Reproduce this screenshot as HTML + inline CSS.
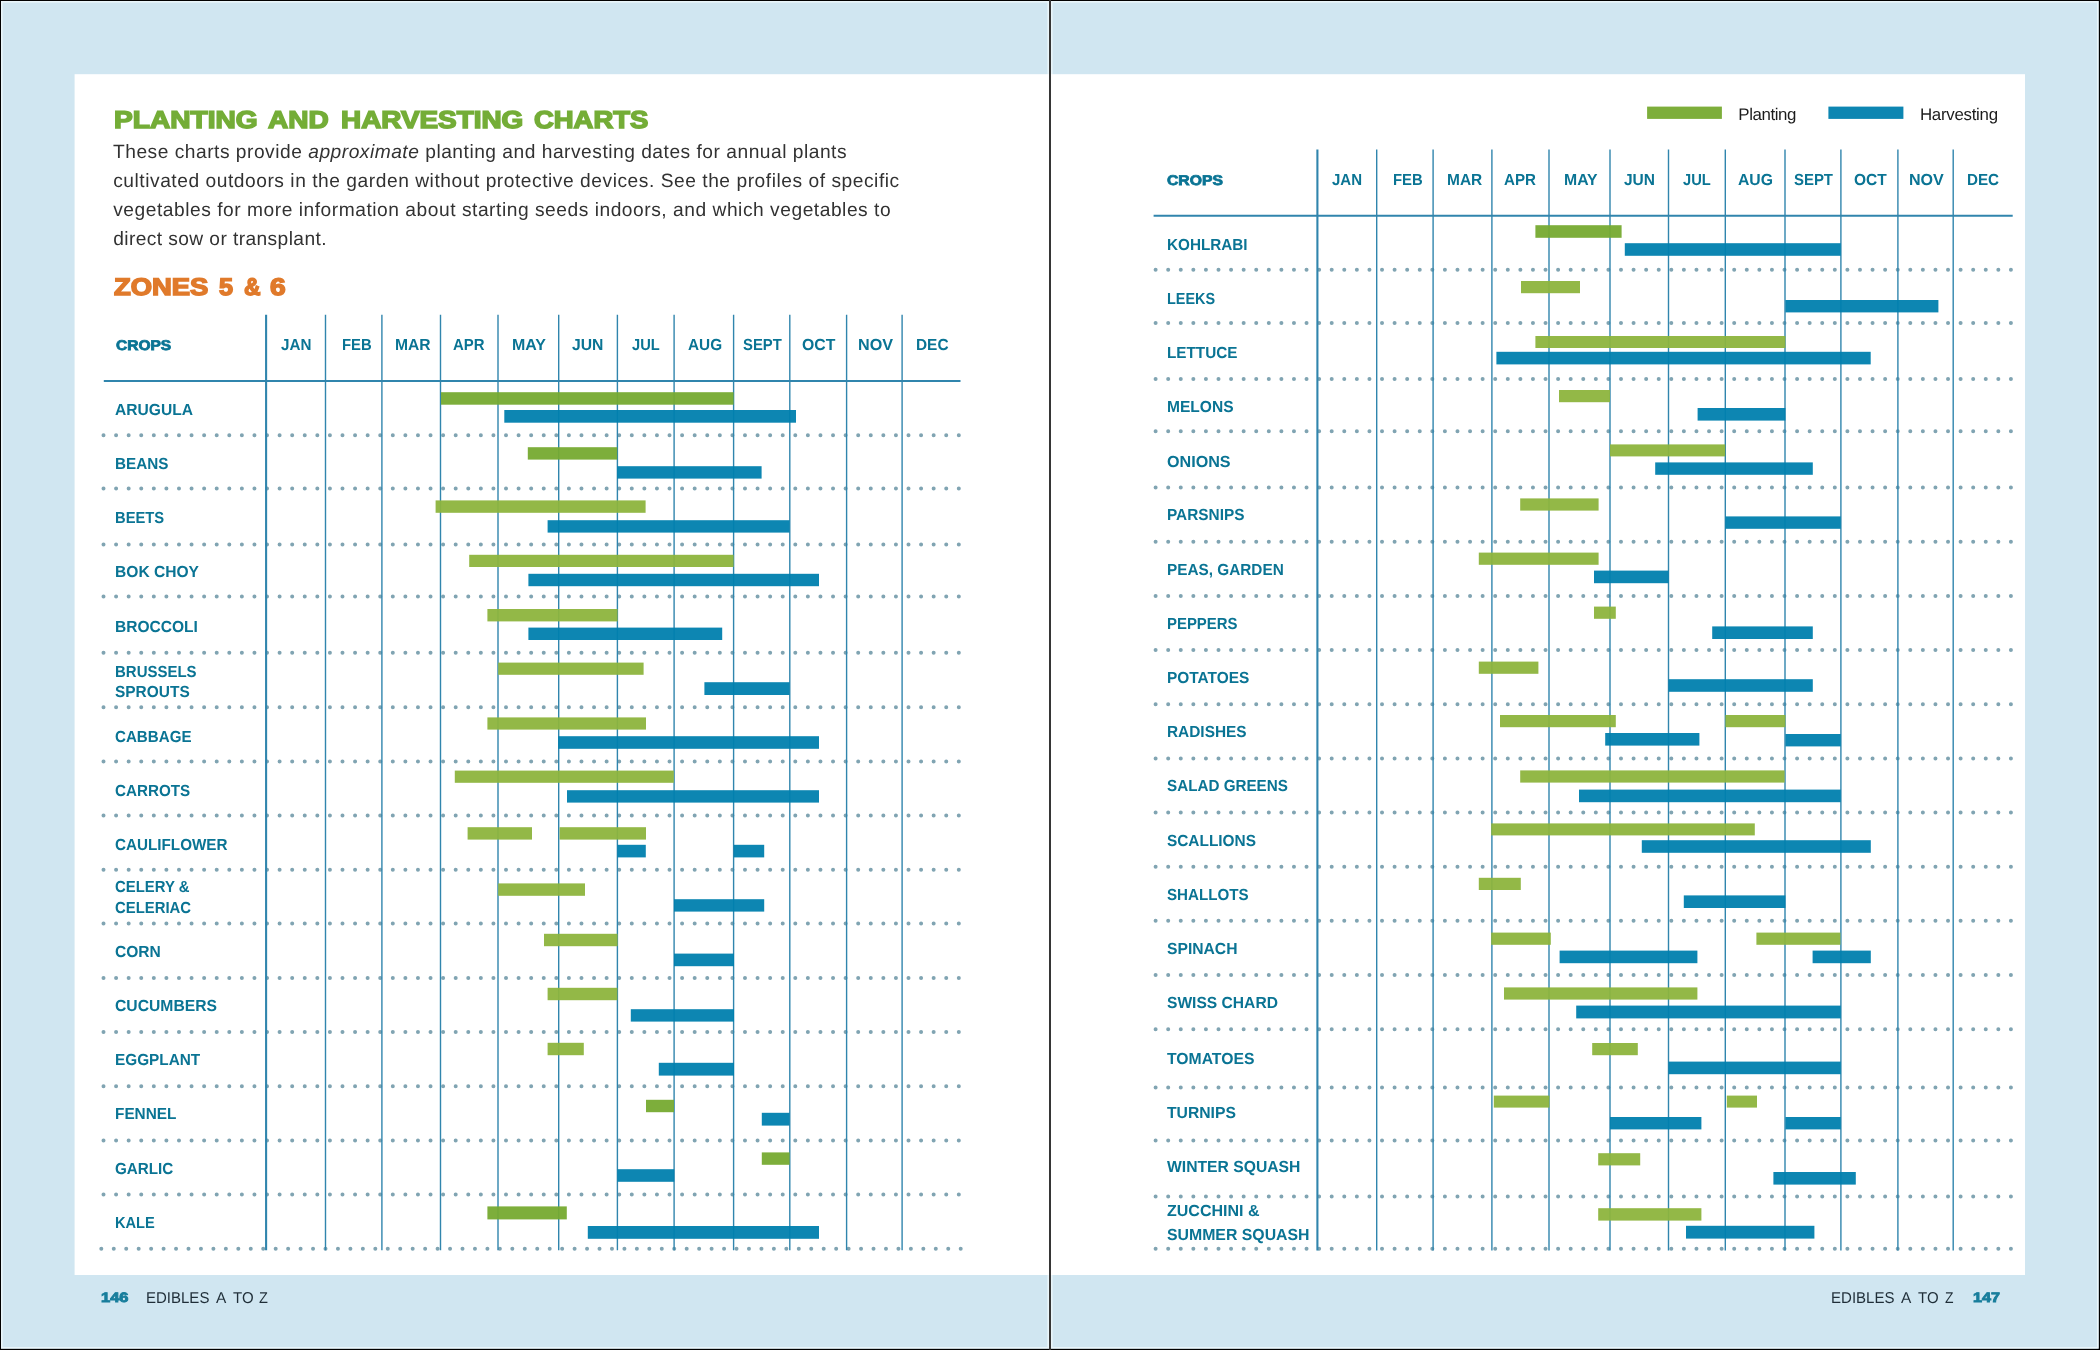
<!DOCTYPE html>
<html><head><meta charset="utf-8"><title>Planting and Harvesting Charts</title>
<style>
html,body{margin:0;padding:0;background:#000;}
body{width:2100px;height:1350px;position:relative;overflow:hidden;font-family:"Liberation Sans",sans-serif;}
svg{position:absolute;left:0;top:0;}
.t{position:absolute;white-space:pre;line-height:1;transform-origin:0 0;text-rendering:geometricPrecision;}
#txt{position:absolute;left:0;top:0;width:2100px;height:1350px;will-change:transform;}
</style></head><body>
<svg width="2100" height="1350" viewBox="0 0 2100 1350">
<rect x="1.00" y="1.00" width="2097.60" height="1347.60" fill="#d0e6f1"/>
<g fill="none" stroke="#e9f6fb" stroke-width="1.6"><rect x="1.8" y="1.8" width="1046.4" height="1346"/><rect x="1051.8" y="1.8" width="1046" height="1346"/></g>
<rect x="74.60" y="74.20" width="1950.40" height="1200.80" fill="#ffffff"/>
<rect x="1049.00" y="0.00" width="2.00" height="1350.00" fill="#363636"/>
<g stroke="#80a4b2" stroke-width="4.0" stroke-linecap="round" fill="none">
<line x1="103.50" y1="435.30" x2="959.30" y2="435.30" stroke-dasharray="0.01 12.568"/>
<line x1="103.50" y1="488.40" x2="959.30" y2="488.40" stroke-dasharray="0.01 12.568"/>
<line x1="103.50" y1="544.40" x2="959.30" y2="544.40" stroke-dasharray="0.01 12.568"/>
<line x1="103.50" y1="596.60" x2="959.30" y2="596.60" stroke-dasharray="0.01 12.568"/>
<line x1="103.50" y1="652.80" x2="959.30" y2="652.80" stroke-dasharray="0.01 12.568"/>
<line x1="103.50" y1="707.20" x2="959.30" y2="707.20" stroke-dasharray="0.01 12.568"/>
<line x1="103.50" y1="761.40" x2="959.30" y2="761.40" stroke-dasharray="0.01 12.568"/>
<line x1="103.50" y1="815.40" x2="959.30" y2="815.40" stroke-dasharray="0.01 12.568"/>
<line x1="103.50" y1="869.70" x2="959.30" y2="869.70" stroke-dasharray="0.01 12.568"/>
<line x1="103.50" y1="923.60" x2="959.30" y2="923.60" stroke-dasharray="0.01 12.568"/>
<line x1="103.50" y1="977.90" x2="959.30" y2="977.90" stroke-dasharray="0.01 12.568"/>
<line x1="103.50" y1="1032.10" x2="959.30" y2="1032.10" stroke-dasharray="0.01 12.568"/>
<line x1="103.50" y1="1086.30" x2="959.30" y2="1086.30" stroke-dasharray="0.01 12.568"/>
<line x1="103.50" y1="1140.40" x2="959.30" y2="1140.40" stroke-dasharray="0.01 12.568"/>
<line x1="103.50" y1="1194.50" x2="959.30" y2="1194.50" stroke-dasharray="0.01 12.568"/>
<line x1="101.30" y1="1248.80" x2="961.19" y2="1248.80" stroke-dasharray="0.01 12.445"/>
</g>
<g stroke="#3085ad" fill="none">
<line x1="266.10" y1="314.80" x2="266.10" y2="1250.30" stroke-width="2.1"/>
<line x1="325.50" y1="314.80" x2="325.50" y2="1250.30" stroke-width="1.4"/>
<line x1="381.90" y1="314.80" x2="381.90" y2="1250.30" stroke-width="1.4"/>
<line x1="440.50" y1="314.80" x2="440.50" y2="1250.30" stroke-width="1.4"/>
<line x1="498.00" y1="314.80" x2="498.00" y2="1250.30" stroke-width="1.4"/>
<line x1="558.70" y1="314.80" x2="558.70" y2="1250.30" stroke-width="1.4"/>
<line x1="617.40" y1="314.80" x2="617.40" y2="1250.30" stroke-width="1.4"/>
<line x1="674.10" y1="314.80" x2="674.10" y2="1250.30" stroke-width="1.4"/>
<line x1="733.60" y1="314.80" x2="733.60" y2="1250.30" stroke-width="1.4"/>
<line x1="789.80" y1="314.80" x2="789.80" y2="1250.30" stroke-width="1.4"/>
<line x1="846.60" y1="314.80" x2="846.60" y2="1250.30" stroke-width="1.4"/>
<line x1="902.10" y1="314.80" x2="902.10" y2="1250.30" stroke-width="1.4"/>
<line x1="103.80" y1="381.10" x2="960.50" y2="381.10" stroke-width="2"/>
</g>
<g stroke="#80a4b2" stroke-width="4.0" stroke-linecap="round" fill="none">
<line x1="1155.60" y1="269.80" x2="2011.40" y2="269.80" stroke-dasharray="0.01 12.568"/>
<line x1="1155.60" y1="323.00" x2="2011.40" y2="323.00" stroke-dasharray="0.01 12.568"/>
<line x1="1155.60" y1="379.00" x2="2011.40" y2="379.00" stroke-dasharray="0.01 12.568"/>
<line x1="1155.60" y1="431.20" x2="2011.40" y2="431.20" stroke-dasharray="0.01 12.568"/>
<line x1="1155.60" y1="487.50" x2="2011.40" y2="487.50" stroke-dasharray="0.01 12.568"/>
<line x1="1155.60" y1="541.80" x2="2011.40" y2="541.80" stroke-dasharray="0.01 12.568"/>
<line x1="1155.60" y1="595.90" x2="2011.40" y2="595.90" stroke-dasharray="0.01 12.568"/>
<line x1="1155.60" y1="650.00" x2="2011.40" y2="650.00" stroke-dasharray="0.01 12.568"/>
<line x1="1155.60" y1="704.20" x2="2011.40" y2="704.20" stroke-dasharray="0.01 12.568"/>
<line x1="1155.60" y1="758.40" x2="2011.40" y2="758.40" stroke-dasharray="0.01 12.568"/>
<line x1="1155.60" y1="812.60" x2="2011.40" y2="812.60" stroke-dasharray="0.01 12.568"/>
<line x1="1155.60" y1="866.70" x2="2011.40" y2="866.70" stroke-dasharray="0.01 12.568"/>
<line x1="1155.60" y1="920.80" x2="2011.40" y2="920.80" stroke-dasharray="0.01 12.568"/>
<line x1="1155.60" y1="975.00" x2="2011.40" y2="975.00" stroke-dasharray="0.01 12.568"/>
<line x1="1155.60" y1="1029.20" x2="2011.40" y2="1029.20" stroke-dasharray="0.01 12.568"/>
<line x1="1155.60" y1="1087.50" x2="2011.40" y2="1087.50" stroke-dasharray="0.01 12.568"/>
<line x1="1155.60" y1="1140.50" x2="2011.40" y2="1140.50" stroke-dasharray="0.01 12.568"/>
<line x1="1155.60" y1="1196.40" x2="2011.40" y2="1196.40" stroke-dasharray="0.01 12.568"/>
<line x1="1155.60" y1="1248.80" x2="2011.40" y2="1248.80" stroke-dasharray="0.01 12.568"/>
</g>
<g stroke="#3085ad" fill="none">
<line x1="1317.40" y1="149.50" x2="1317.40" y2="1250.50" stroke-width="2.1"/>
<line x1="1376.70" y1="149.50" x2="1376.70" y2="1250.50" stroke-width="1.4"/>
<line x1="1433.10" y1="149.50" x2="1433.10" y2="1250.50" stroke-width="1.4"/>
<line x1="1491.90" y1="149.50" x2="1491.90" y2="1250.50" stroke-width="1.4"/>
<line x1="1549.00" y1="149.50" x2="1549.00" y2="1250.50" stroke-width="1.4"/>
<line x1="1610.00" y1="149.50" x2="1610.00" y2="1250.50" stroke-width="1.4"/>
<line x1="1668.50" y1="149.50" x2="1668.50" y2="1250.50" stroke-width="1.4"/>
<line x1="1725.30" y1="149.50" x2="1725.30" y2="1250.50" stroke-width="1.4"/>
<line x1="1785.00" y1="149.50" x2="1785.00" y2="1250.50" stroke-width="1.4"/>
<line x1="1840.90" y1="149.50" x2="1840.90" y2="1250.50" stroke-width="1.4"/>
<line x1="1897.90" y1="149.50" x2="1897.90" y2="1250.50" stroke-width="1.4"/>
<line x1="1953.20" y1="149.50" x2="1953.20" y2="1250.50" stroke-width="1.4"/>
<line x1="1153.60" y1="215.80" x2="2012.70" y2="215.80" stroke-width="2"/>
</g>
<g fill-opacity="0.95">
<rect x="441.00" y="392.20" width="292.60" height="12.50" fill="#76aa30"/>
<rect x="504.30" y="410.00" width="291.70" height="12.70" fill="#0080ae"/>
<rect x="527.80" y="447.20" width="89.40" height="12.40" fill="#76aa30"/>
<rect x="617.20" y="466.20" width="144.40" height="12.40" fill="#0080ae"/>
<rect x="435.60" y="500.40" width="210.00" height="12.40" fill="#8db43d"/>
<rect x="547.60" y="520.20" width="242.00" height="12.40" fill="#0080ae"/>
<rect x="469.20" y="554.80" width="264.40" height="12.20" fill="#8db43d"/>
<rect x="528.40" y="573.80" width="290.60" height="12.40" fill="#0080ae"/>
<rect x="487.40" y="609.00" width="130.20" height="12.40" fill="#8db43d"/>
<rect x="528.40" y="627.60" width="193.80" height="12.40" fill="#0080ae"/>
<rect x="498.20" y="662.60" width="145.40" height="12.20" fill="#8db43d"/>
<rect x="704.40" y="682.20" width="85.20" height="12.80" fill="#0080ae"/>
<rect x="487.40" y="717.40" width="158.60" height="12.20" fill="#8db43d"/>
<rect x="558.20" y="736.20" width="260.80" height="12.60" fill="#0080ae"/>
<rect x="454.80" y="770.60" width="219.00" height="12.20" fill="#8db43d"/>
<rect x="567.00" y="790.20" width="252.00" height="12.40" fill="#0080ae"/>
<rect x="467.60" y="827.20" width="64.40" height="12.40" fill="#8db43d"/>
<rect x="559.60" y="827.20" width="86.40" height="12.40" fill="#8db43d"/>
<rect x="617.40" y="844.80" width="28.40" height="12.60" fill="#0080ae"/>
<rect x="733.80" y="844.80" width="30.40" height="12.60" fill="#0080ae"/>
<rect x="498.20" y="883.40" width="86.80" height="12.40" fill="#8db43d"/>
<rect x="674.00" y="899.20" width="90.20" height="12.40" fill="#0080ae"/>
<rect x="544.00" y="933.80" width="73.60" height="12.40" fill="#8db43d"/>
<rect x="674.00" y="953.60" width="60.00" height="12.60" fill="#0080ae"/>
<rect x="547.60" y="987.80" width="69.80" height="12.40" fill="#8db43d"/>
<rect x="630.80" y="1009.20" width="103.20" height="12.40" fill="#0080ae"/>
<rect x="547.60" y="1042.80" width="36.20" height="12.40" fill="#8db43d"/>
<rect x="658.80" y="1062.80" width="75.20" height="12.80" fill="#0080ae"/>
<rect x="646.00" y="1099.80" width="28.00" height="12.40" fill="#76aa30"/>
<rect x="761.80" y="1112.80" width="27.80" height="12.80" fill="#0080ae"/>
<rect x="761.80" y="1152.40" width="27.80" height="12.40" fill="#76aa30"/>
<rect x="617.40" y="1169.20" width="56.80" height="12.60" fill="#0080ae"/>
<rect x="487.40" y="1206.40" width="79.40" height="13.00" fill="#76aa30"/>
<rect x="587.80" y="1226.00" width="231.20" height="12.80" fill="#0080ae"/>
<rect x="1535.40" y="225.20" width="86.20" height="12.60" fill="#76aa30"/>
<rect x="1624.80" y="243.20" width="216.00" height="12.60" fill="#0080ae"/>
<rect x="1521.00" y="281.00" width="59.00" height="12.20" fill="#8db43d"/>
<rect x="1785.40" y="300.00" width="153.00" height="12.40" fill="#0080ae"/>
<rect x="1535.40" y="336.00" width="250.00" height="12.00" fill="#8db43d"/>
<rect x="1496.40" y="351.80" width="374.30" height="12.60" fill="#0080ae"/>
<rect x="1559.00" y="390.00" width="51.00" height="12.20" fill="#8db43d"/>
<rect x="1697.60" y="408.00" width="87.80" height="12.60" fill="#0080ae"/>
<rect x="1610.00" y="444.40" width="115.20" height="12.00" fill="#8db43d"/>
<rect x="1655.20" y="462.40" width="157.60" height="12.40" fill="#0080ae"/>
<rect x="1520.20" y="498.40" width="78.40" height="12.20" fill="#8db43d"/>
<rect x="1725.40" y="516.40" width="115.40" height="12.40" fill="#0080ae"/>
<rect x="1478.80" y="552.60" width="119.80" height="12.20" fill="#8db43d"/>
<rect x="1594.00" y="570.60" width="74.60" height="12.60" fill="#0080ae"/>
<rect x="1594.00" y="606.60" width="21.80" height="12.20" fill="#8db43d"/>
<rect x="1712.20" y="626.40" width="100.60" height="12.60" fill="#0080ae"/>
<rect x="1478.80" y="661.60" width="59.60" height="12.20" fill="#8db43d"/>
<rect x="1668.60" y="679.20" width="144.20" height="12.60" fill="#0080ae"/>
<rect x="1500.00" y="715.00" width="115.80" height="12.20" fill="#8db43d"/>
<rect x="1725.40" y="715.00" width="60.00" height="12.20" fill="#8db43d"/>
<rect x="1605.20" y="733.00" width="94.20" height="12.60" fill="#0080ae"/>
<rect x="1785.40" y="734.00" width="55.40" height="12.40" fill="#0080ae"/>
<rect x="1520.20" y="770.40" width="264.40" height="12.20" fill="#8db43d"/>
<rect x="1579.00" y="789.60" width="261.80" height="12.60" fill="#0080ae"/>
<rect x="1491.20" y="823.40" width="263.60" height="12.00" fill="#8db43d"/>
<rect x="1641.80" y="840.20" width="229.00" height="12.60" fill="#0080ae"/>
<rect x="1478.80" y="877.80" width="42.00" height="12.20" fill="#8db43d"/>
<rect x="1683.80" y="895.40" width="101.60" height="12.60" fill="#0080ae"/>
<rect x="1491.20" y="932.60" width="59.60" height="12.20" fill="#8db43d"/>
<rect x="1756.40" y="932.60" width="84.00" height="12.20" fill="#8db43d"/>
<rect x="1559.60" y="950.60" width="137.80" height="12.60" fill="#0080ae"/>
<rect x="1812.60" y="950.60" width="58.20" height="12.60" fill="#0080ae"/>
<rect x="1504.00" y="987.40" width="193.40" height="12.20" fill="#8db43d"/>
<rect x="1576.20" y="1005.60" width="264.60" height="12.80" fill="#0080ae"/>
<rect x="1592.20" y="1043.00" width="45.60" height="12.20" fill="#8db43d"/>
<rect x="1668.60" y="1061.60" width="172.20" height="12.60" fill="#0080ae"/>
<rect x="1493.80" y="1095.60" width="55.60" height="12.00" fill="#8db43d"/>
<rect x="1726.80" y="1095.60" width="30.20" height="12.00" fill="#8db43d"/>
<rect x="1610.00" y="1117.00" width="91.40" height="12.40" fill="#0080ae"/>
<rect x="1785.40" y="1117.00" width="55.40" height="12.40" fill="#0080ae"/>
<rect x="1598.20" y="1153.20" width="42.00" height="12.20" fill="#8db43d"/>
<rect x="1773.40" y="1172.00" width="82.40" height="12.60" fill="#0080ae"/>
<rect x="1598.20" y="1208.20" width="103.20" height="12.40" fill="#8db43d"/>
<rect x="1686.00" y="1225.80" width="128.40" height="12.80" fill="#0080ae"/>
<rect x="1647.10" y="106.60" width="74.80" height="12.30" fill="#76aa30"/>
<rect x="1828.40" y="106.60" width="75.00" height="12.30" fill="#0080ae"/>
</g>
</svg>
<div id="txt">
<div class="t" style="left:114.46px;top:109.00px;font-size:24.42px;color:#74ad37;transform:scaleX(1.1516);font-weight:bold;-webkit-text-stroke:1.50px #74ad37">PLANTING</div>
<div class="t" style="left:268.46px;top:109.00px;font-size:24.42px;color:#74ad37;transform:scaleX(1.1473);font-weight:bold;-webkit-text-stroke:1.50px #74ad37">AND</div>
<div class="t" style="left:340.86px;top:109.00px;font-size:24.42px;color:#74ad37;transform:scaleX(1.1423);font-weight:bold;-webkit-text-stroke:1.50px #74ad37">HARVESTING</div>
<div class="t" style="left:534.44px;top:109.00px;font-size:24.42px;color:#74ad37;transform:scaleX(1.1240);font-weight:bold;-webkit-text-stroke:1.50px #74ad37">CHARTS</div>
<div class="t" style="left:113.85px;top:276.00px;font-size:24.13px;color:#e07a2b;transform:scaleX(1.1353);font-weight:bold;-webkit-text-stroke:1.50px #e07a2b">ZONES</div>
<div class="t" style="left:218.78px;top:276.00px;font-size:24.13px;color:#e07a2b;transform:scaleX(1.0457);font-weight:bold;-webkit-text-stroke:1.50px #e07a2b">5</div>
<div class="t" style="left:243.71px;top:276.00px;font-size:24.13px;color:#e07a2b;transform:scaleX(0.9515);font-weight:bold;-webkit-text-stroke:1.50px #e07a2b">&amp;</div>
<div class="t" style="left:270.47px;top:276.00px;font-size:24.13px;color:#e07a2b;transform:scaleX(1.1664);font-weight:bold;-webkit-text-stroke:1.50px #e07a2b">6</div>
<div class="t" style="left:113.00px;top:143.00px;font-size:19.19px;letter-spacing:0.509px;color:#323232">These charts provide <span style="font-style:italic">approximate</span> planting and harvesting dates for annual plants</div>
<div class="t" style="left:113.20px;top:172.00px;font-size:19.19px;letter-spacing:0.538px;color:#323232">cultivated outdoors in the garden without protective devices. See the profiles of specific</div>
<div class="t" style="left:113.20px;top:201.00px;font-size:19.19px;letter-spacing:0.532px;color:#323232">vegetables for more information about starting seeds indoors, and which vegetables to</div>
<div class="t" style="left:113.20px;top:230.00px;font-size:19.19px;letter-spacing:0.403px;color:#323232">direct sow or transplant.</div>
<div class="t" style="left:115.40px;top:403.00px;font-size:16.00px;color:#0a7494;transform:scaleX(0.9750);font-weight:bold">ARUGULA</div>
<div class="t" style="left:115.40px;top:457.00px;font-size:16.00px;color:#0a7494;transform:scaleX(0.9533);font-weight:bold">BEANS</div>
<div class="t" style="left:115.40px;top:511.00px;font-size:16.00px;color:#0a7494;transform:scaleX(0.9223);font-weight:bold">BEETS</div>
<div class="t" style="left:115.40px;top:565.00px;font-size:16.00px;color:#0a7494;transform:scaleX(0.9741);font-weight:bold">BOK CHOY</div>
<div class="t" style="left:115.40px;top:620.00px;font-size:16.00px;color:#0a7494;transform:scaleX(0.9715);font-weight:bold">BROCCOLI</div>
<div class="t" style="left:115.40px;top:665.00px;font-size:16.00px;color:#0a7494;transform:scaleX(0.9366);font-weight:bold">BRUSSELS</div>
<div class="t" style="left:115.40px;top:685.00px;font-size:16.00px;color:#0a7494;transform:scaleX(0.9658);font-weight:bold">SPROUTS</div>
<div class="t" style="left:115.40px;top:730.00px;font-size:16.00px;color:#0a7494;transform:scaleX(0.9457);font-weight:bold">CABBAGE</div>
<div class="t" style="left:115.40px;top:784.00px;font-size:16.00px;color:#0a7494;transform:scaleX(0.9506);font-weight:bold">CARROTS</div>
<div class="t" style="left:115.40px;top:838.00px;font-size:16.00px;color:#0a7494;transform:scaleX(0.9518);font-weight:bold">CAULIFLOWER</div>
<div class="t" style="left:115.40px;top:880.00px;font-size:16.00px;color:#0a7494;transform:scaleX(0.9311);font-weight:bold">CELERY &amp;</div>
<div class="t" style="left:115.40px;top:901.00px;font-size:16.00px;color:#0a7494;transform:scaleX(0.9293);font-weight:bold">CELERIAC</div>
<div class="t" style="left:115.40px;top:945.00px;font-size:16.00px;color:#0a7494;transform:scaleX(0.9723);font-weight:bold">CORN</div>
<div class="t" style="left:115.40px;top:999.00px;font-size:16.00px;color:#0a7494;transform:scaleX(0.9808);font-weight:bold">CUCUMBERS</div>
<div class="t" style="left:115.40px;top:1053.00px;font-size:16.00px;color:#0a7494;transform:scaleX(0.9585);font-weight:bold">EGGPLANT</div>
<div class="t" style="left:115.40px;top:1107.00px;font-size:16.00px;color:#0a7494;transform:scaleX(0.9593);font-weight:bold">FENNEL</div>
<div class="t" style="left:115.40px;top:1162.00px;font-size:16.00px;color:#0a7494;transform:scaleX(0.9507);font-weight:bold">GARLIC</div>
<div class="t" style="left:115.40px;top:1216.00px;font-size:16.00px;color:#0a7494;transform:scaleX(0.9136);font-weight:bold">KALE</div>
<div class="t" style="left:1166.50px;top:238.00px;font-size:16.00px;color:#0a7494;transform:scaleX(0.9533);font-weight:bold">KOHLRABI</div>
<div class="t" style="left:1166.50px;top:292.00px;font-size:16.00px;color:#0a7494;transform:scaleX(0.9017);font-weight:bold">LEEKS</div>
<div class="t" style="left:1166.50px;top:346.00px;font-size:16.00px;color:#0a7494;transform:scaleX(0.9555);font-weight:bold">LETTUCE</div>
<div class="t" style="left:1166.50px;top:400.00px;font-size:16.00px;color:#0a7494;transform:scaleX(0.9715);font-weight:bold">MELONS</div>
<div class="t" style="left:1166.50px;top:455.00px;font-size:16.00px;color:#0a7494;transform:scaleX(1.0075);font-weight:bold">ONIONS</div>
<div class="t" style="left:1166.50px;top:508.00px;font-size:16.00px;color:#0a7494;transform:scaleX(0.9602);font-weight:bold">PARSNIPS</div>
<div class="t" style="left:1166.50px;top:563.00px;font-size:16.00px;color:#0a7494;transform:scaleX(0.9582);font-weight:bold">PEAS, GARDEN</div>
<div class="t" style="left:1166.50px;top:617.00px;font-size:16.00px;color:#0a7494;transform:scaleX(0.9326);font-weight:bold">PEPPERS</div>
<div class="t" style="left:1166.50px;top:671.00px;font-size:16.00px;color:#0a7494;transform:scaleX(0.9643);font-weight:bold">POTATOES</div>
<div class="t" style="left:1166.50px;top:725.00px;font-size:16.00px;color:#0a7494;transform:scaleX(0.9627);font-weight:bold">RADISHES</div>
<div class="t" style="left:1166.50px;top:779.00px;font-size:16.00px;color:#0a7494;transform:scaleX(0.9510);font-weight:bold">SALAD GREENS</div>
<div class="t" style="left:1166.50px;top:834.00px;font-size:16.00px;color:#0a7494;transform:scaleX(0.9616);font-weight:bold">SCALLIONS</div>
<div class="t" style="left:1166.50px;top:888.00px;font-size:16.00px;color:#0a7494;transform:scaleX(0.9464);font-weight:bold">SHALLOTS</div>
<div class="t" style="left:1166.50px;top:942.00px;font-size:16.00px;color:#0a7494;transform:scaleX(0.9790);font-weight:bold">SPINACH</div>
<div class="t" style="left:1166.50px;top:996.00px;font-size:16.00px;color:#0a7494;transform:scaleX(0.9747);font-weight:bold">SWISS CHARD</div>
<div class="t" style="left:1166.50px;top:1052.00px;font-size:16.00px;color:#0a7494;transform:scaleX(0.9831);font-weight:bold">TOMATOES</div>
<div class="t" style="left:1166.50px;top:1106.00px;font-size:16.00px;color:#0a7494;transform:scaleX(0.9810);font-weight:bold">TURNIPS</div>
<div class="t" style="left:1166.50px;top:1160.00px;font-size:16.00px;color:#0a7494;transform:scaleX(0.9809);font-weight:bold">WINTER SQUASH</div>
<div class="t" style="left:1166.50px;top:1204.00px;font-size:16.00px;color:#0a7494;transform:scaleX(1.0007);font-weight:bold">ZUCCHINI &amp;</div>
<div class="t" style="left:1166.50px;top:1228.00px;font-size:16.00px;color:#0a7494;transform:scaleX(0.9895);font-weight:bold">SUMMER SQUASH</div>
<div class="t" style="left:116.04px;top:338.00px;font-size:14.10px;color:#0a7494;transform:scaleX(1.1007);font-weight:bold;-webkit-text-stroke:0.80px #0a7494">CROPS</div>
<div class="t" style="left:1166.65px;top:173.00px;font-size:14.10px;color:#0a7494;transform:scaleX(1.1144);font-weight:bold;-webkit-text-stroke:0.80px #0a7494">CROPS</div>
<div class="t" style="left:280.60px;top:338.00px;font-size:16.00px;color:#0a7494;transform:scaleX(0.9496);font-weight:bold">JAN</div>
<div class="t" style="left:342.00px;top:338.00px;font-size:16.00px;color:#0a7494;transform:scaleX(0.9282);font-weight:bold">FEB</div>
<div class="t" style="left:395.00px;top:338.00px;font-size:16.00px;color:#0a7494;transform:scaleX(0.9771);font-weight:bold">MAR</div>
<div class="t" style="left:453.20px;top:338.00px;font-size:16.00px;color:#0a7494;transform:scaleX(0.9325);font-weight:bold">APR</div>
<div class="t" style="left:512.30px;top:338.00px;font-size:16.00px;color:#0a7494;transform:scaleX(0.9973);font-weight:bold">MAY</div>
<div class="t" style="left:571.90px;top:338.00px;font-size:16.00px;color:#0a7494;transform:scaleX(0.9809);font-weight:bold">JUN</div>
<div class="t" style="left:632.20px;top:338.00px;font-size:16.00px;color:#0a7494;transform:scaleX(0.9161);font-weight:bold">JUL</div>
<div class="t" style="left:687.60px;top:338.00px;font-size:16.00px;color:#0a7494;transform:scaleX(0.9588);font-weight:bold">AUG</div>
<div class="t" style="left:743.30px;top:338.00px;font-size:16.00px;color:#0a7494;transform:scaleX(0.9259);font-weight:bold">SEPT</div>
<div class="t" style="left:802.40px;top:338.00px;font-size:16.00px;color:#0a7494;transform:scaleX(0.9857);font-weight:bold">OCT</div>
<div class="t" style="left:858.10px;top:338.00px;font-size:16.00px;color:#0a7494;transform:scaleX(1.0095);font-weight:bold">NOV</div>
<div class="t" style="left:915.50px;top:338.00px;font-size:16.00px;color:#0a7494;transform:scaleX(0.9622);font-weight:bold">DEC</div>
<div class="t" style="left:1332.40px;top:173.00px;font-size:16.00px;color:#0a7494;transform:scaleX(0.9371);font-weight:bold">JAN</div>
<div class="t" style="left:1392.90px;top:173.00px;font-size:16.00px;color:#0a7494;transform:scaleX(0.9282);font-weight:bold">FEB</div>
<div class="t" style="left:1446.70px;top:173.00px;font-size:16.00px;color:#0a7494;transform:scaleX(0.9661);font-weight:bold">MAR</div>
<div class="t" style="left:1504.30px;top:173.00px;font-size:16.00px;color:#0a7494;transform:scaleX(0.9444);font-weight:bold">APR</div>
<div class="t" style="left:1563.80px;top:173.00px;font-size:16.00px;color:#0a7494;transform:scaleX(0.9855);font-weight:bold">MAY</div>
<div class="t" style="left:1623.50px;top:173.00px;font-size:16.00px;color:#0a7494;transform:scaleX(0.9684);font-weight:bold">JUN</div>
<div class="t" style="left:1683.40px;top:173.00px;font-size:16.00px;color:#0a7494;transform:scaleX(0.9194);font-weight:bold">JUL</div>
<div class="t" style="left:1738.30px;top:173.00px;font-size:16.00px;color:#0a7494;transform:scaleX(0.9841);font-weight:bold">AUG</div>
<div class="t" style="left:1794.40px;top:173.00px;font-size:16.00px;color:#0a7494;transform:scaleX(0.9330);font-weight:bold">SEPT</div>
<div class="t" style="left:1853.90px;top:173.00px;font-size:16.00px;color:#0a7494;transform:scaleX(0.9679);font-weight:bold">OCT</div>
<div class="t" style="left:1909.00px;top:173.00px;font-size:16.00px;color:#0a7494;transform:scaleX(1.0037);font-weight:bold">NOV</div>
<div class="t" style="left:1967.00px;top:173.00px;font-size:16.00px;color:#0a7494;transform:scaleX(0.9503);font-weight:bold">DEC</div>
<div class="t" style="left:1738.30px;top:107.00px;font-size:16.86px;letter-spacing:-0.391px;color:#1c1c1c">Planting</div>
<div class="t" style="left:1919.90px;top:107.00px;font-size:16.86px;letter-spacing:-0.266px;color:#1c1c1c">Harvesting</div>
<div class="t" style="left:100.54px;top:1291.00px;font-size:13.66px;color:#187e9c;transform:scaleX(1.2070);font-weight:bold;-webkit-text-stroke:0.90px #187e9c">146</div>
<div class="t" style="left:146.30px;top:1291.00px;font-size:15.70px;color:#1f2e38;transform:scaleX(0.9565)">EDIBLES</div>
<div class="t" style="left:216.00px;top:1291.00px;font-size:15.70px;color:#1f2e38;transform:scaleX(0.9839)">A</div>
<div class="t" style="left:233.10px;top:1291.00px;font-size:15.70px;color:#1f2e38;transform:scaleX(0.9573)">TO</div>
<div class="t" style="left:259.40px;top:1291.00px;font-size:15.70px;color:#1f2e38;transform:scaleX(0.9275)">Z</div>
<div class="t" style="left:1831.40px;top:1291.00px;font-size:15.70px;color:#1f2e38;transform:scaleX(0.9580)">EDIBLES</div>
<div class="t" style="left:1901.10px;top:1291.00px;font-size:15.70px;color:#1f2e38;transform:scaleX(0.9839)">A</div>
<div class="t" style="left:1918.30px;top:1291.00px;font-size:15.70px;color:#1f2e38;transform:scaleX(0.9573)">TO</div>
<div class="t" style="left:1944.60px;top:1291.00px;font-size:15.70px;color:#1f2e38;transform:scaleX(0.8858)">Z</div>
<div class="t" style="left:1972.53px;top:1291.00px;font-size:13.66px;color:#187e9c;transform:scaleX(1.1817);font-weight:bold;-webkit-text-stroke:0.90px #187e9c">147</div>
</div>
</body></html>
